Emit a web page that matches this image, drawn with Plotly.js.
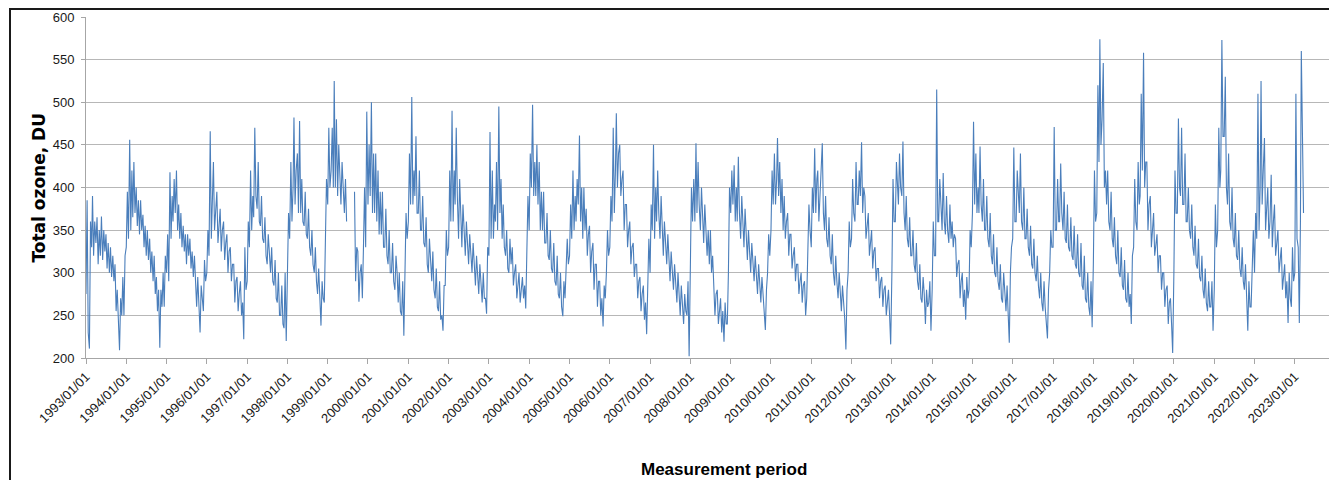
<!DOCTYPE html>
<html><head><meta charset="utf-8">
<script src="https://cdn.plot.ly/plotly-3.0.1.min.js"></script>
<style>
html,body{margin:0;padding:0;overflow:hidden;background:#fff}
#chart{width:1329px;height:480px;position:absolute;left:0;top:0}
#frame{position:absolute;left:9px;top:8px;width:1400px;height:600px;border-left:2px solid #1a1a1a;border-top:2px solid #1a1a1a;pointer-events:none}
</style></head><body>
<div id="chart"></div><div id="frame"></div>
<script>
// Readings on the 1st, 11th and 21st of each month, total ozone in DU
const oz1993 = [275,385,230, 211,360,330, 390,320,360, 335,365,310, 350,320,366, 315,350,325, 345,305,335, 300,330,295, 320,290,310, 255,280,240, 209,270,250, 295,250,320];
const oz1994 = [330,395,340, 456,350,420, 365,430,370, 400,355,385, 345,385,350, 368,330,355, 320,350,315, 340,300,325, 290,320,275, 295,255,280, 212,280,260, 300,260,320];
const oz1995 = [300,345,290, 418,340,390, 360,410,370, 420,350,380, 340,370,330, 355,325,345, 310,345,320, 340,305,325, 295,320,280, 260,295,250, 230,285,265, 255,315,290];
const oz1996 = [300,350,320, 466,340,400, 430,350,380, 395,335,360, 375,325,350, 360,315,335, 345,300,325, 330,290,310, 310,265,290, 295,255,275, 290,250,265, 222,330,280];
const oz1997 = [290,360,330, 420,350,390, 365,470,390, 375,430,360, 355,390,340, 335,365,320, 310,345,325, 300,330,290, 285,315,270, 265,300,250, 250,285,240, 235,300,220];
const oz1998 = [300,370,340, 430,360,400, 482,380,420, 440,370,478, 370,410,360, 355,395,345, 340,375,330, 320,350,310, 300,330,290, 275,305,260, 238,290,270, 265,360,410];
const oz1999 = [380,470,400, 420,470,400, 525,400,480, 390,450,400, 380,430,390, 370,410,360, null,null,null, null,null,null, 395,290,330, 325,266,300, 310,270,330, 400,330,489];
const oz2000 = [380,450,390, 500,370,440, 370,440,360, 420,345,395, 345,395,330, 330,375,320, 310,350,300, 300,335,290, 280,320,300, 265,300,255, 250,290,226, 300,370,340];
const oz2001 = [360,440,380, 506,380,420, 390,460,370, 370,420,350, 350,390,335, 330,365,310, 300,340,310, 290,325,280, 270,305,260, 255,290,245, 250,232,285, 285,350,320];
const oz2002 = [330,420,360, 490,360,420, 380,470,390, 340,410,350, 330,380,340, 320,360,330, 310,345,320, 300,335,310, 285,320,290, 275,310,280, 265,300,270, 270,252,330];
const oz2003 = [320,465,340, 420,340,380, 360,430,350, 495,370,410, 340,380,330, 320,350,305, 300,340,310, 330,285,300, 310,270,290, 300,265,280, 295,270,285, 258,330,390];
const oz2004 = [350,440,400, 497,390,430, 390,450,380, 430,350,395, 350,395,335, 335,370,320, 315,350,305, 300,335,290, 285,320,275, 270,300,260, 249,290,270, 300,340,310];
const oz2005 = [320,380,340, 420,350,390, 360,410,380, 461,360,400, 340,400,350, 375,320,345, 355,300,325, 335,280,310, 310,260,290, 290,250,270, 237,285,270, 300,350,320];
const oz2006 = [330,390,360, 470,370,420, 487,400,440, 450,390,410, 420,350,380, 380,330,350, 360,310,330, 335,295,310, 310,270,290, 295,255,275, 285,245,265, 228,290,340];
const oz2007 = [300,380,350, 450,340,400, 360,420,370, 340,390,350, 320,360,330, 310,345,320, 290,325,300, 280,310,285, 265,300,270, 250,285,260, 240,275,255, 250,290,202];
const oz2008 = [330,400,360, 410,360,452, 370,430,380, 350,400,360, 335,380,340, 320,350,310, 350,300,320, 290,250,275, 280,240,260, 270,230,255, 219,265,240, 240,300,400];
const oz2009 = [370,420,380, 426,360,400, 360,436,370, 340,390,350, 330,375,340, 315,350,320, 300,335,310, 290,320,295, 275,310,280, 265,295,270, 250,233,280, 300,345,320];
const oz2010 = [350,420,380, 440,380,410, 458,390,430, 370,410,350, 390,340,360, 370,320,345, 345,305,320, 330,290,310, 310,275,290, 300,265,285, 290,250,270, 330,380,350];
const oz2011 = [330,400,370, 446,370,410, 420,360,390, 410,452,370, 350,390,340, 330,365,320, 310,345,300, 285,320,290, 270,300,275, 255,285,265, 245,210,280, 300,360,330];
const oz2012 = [340,410,370, 360,430,380, 380,420,390, 453,370,400, 390,340,360, 370,320,340, 350,305,325, 330,290,305, 305,270,290, 295,260,280, 285,250,270, 280,250,216];
const oz2013 = [300,410,360, 360,430,390, 380,440,400, 390,454,370, 350,390,340, 330,365,320, 320,350,310, 300,335,290, 280,310,270, 265,295,275, 240,280,260, 265,290,232];
const oz2014 = [280,360,320, 320,515,360, 360,410,370, 350,417,360, 345,390,350, 335,380,340, 360,330,345, 340,295,310, 315,270,290, 300,260,280, 245,295,270, 280,350,330];
const oz2015 = [370,477,380, 440,370,400, 370,448,380, 360,410,350, 350,390,340, 330,370,320, 310,345,300, 295,330,290, 280,310,270, 265,300,275, 255,285,260, 218,300,330];
const oz2016 = [340,447,360, 360,420,380, 370,440,360, 350,400,340, 340,375,330, 320,355,310, 305,340,300, 290,320,285, 270,300,265, 255,290,260, 245,223,280, 300,350,330];
const oz2017 = [330,471,350, 350,410,360, 360,428,370, 350,395,340, 335,380,330, 325,365,320, 315,355,310, 305,345,300, 295,335,285, 280,320,270, 265,300,260, 250,290,236];
const oz2018 = [310,420,360, 370,520,430, 574,450,480, 546,400,420, 380,420,360, 350,395,340, 330,365,320, 310,350,300, 295,330,285, 280,315,270, 265,300,260, 275,240,320];
const oz2019 = [330,410,360, 350,430,380, 390,510,420, 558,400,430, 430,350,380, 390,330,355, 370,320,335, 345,300,320, 320,280,300, 300,260,280, 285,240,265, 270,240,206];
const oz2020 = [300,420,370, 370,481,400, 390,470,380, 380,440,360, 360,400,350, 340,380,330, 320,355,310, 305,340,295, 290,320,280, 270,305,265, 255,290,260, 260,290,232];
const oz2021 = [280,380,330, 350,470,400, 420,573,460, 460,530,400, 380,440,360, 350,400,340, 330,370,320, 315,350,305, 295,330,290, 280,310,275, 232,290,260, 260,320,350];
const oz2022 = [300,370,340, 510,350,400, 525,380,420, 458,350,380, 400,340,360, 415,330,360, 380,320,340, 350,300,320, 330,280,300, 310,270,290, 241,300,270, 260,330,290];
const oz2023 = [300,510,340, 330,241,360, 560,420,370];

const years = [1993,1994,1995,1996,1997,1998,1999,2000,2001,2002,2003,2004,2005,2006,2007,2008,2009,2010,2011,2012,2013,2014,2015,2016,2017,2018,2019,2020,2021,2022,2023];
const yearly = [oz1993,oz1994,oz1995,oz1996,oz1997,oz1998,oz1999,oz2000,oz2001,oz2002,oz2003,oz2004,oz2005,oz2006,oz2007,oz2008,oz2009,oz2010,oz2011,oz2012,oz2013,oz2014,oz2015,oz2016,oz2017,oz2018,oz2019,oz2020,oz2021,oz2022,oz2023];
const sampleDays = ['01', '11', '21'];
const tickDates = years.map(y => y + '-01-01');
const tickLabels = years.map(y => y + '/01/01');

const xs = [], ys = [];
years.forEach((yr, i) => {
  yearly[i].forEach((v, j) => {
    const m = String(Math.floor(j / 3) + 1).padStart(2, '0');
    xs.push(yr + '-' + m + '-' + sampleDays[j % 3]);
    ys.push(v);
  });
});

const trace = {
  x: xs, y: ys, type: 'scatter', mode: 'lines',
  line: {color: '#4A7EBB', width: 1.1},
  connectgaps: false, hoverinfo: 'skip'
};

const tickFont = {family: 'Liberation Sans, Arial, sans-serif', size: 13, color: '#1a1a1a'};
const layout = {
  width: 1329, height: 480,
  margin: {l: 86, r: 0, t: 17, b: 122, pad: 0},
  paper_bgcolor: '#ffffff', plot_bgcolor: '#ffffff',
  showlegend: false,
  xaxis: {
    type: 'date', range: ['1993-01-01', '2023-11-07'],
    tickmode: 'array', tickvals: tickDates, ticktext: tickLabels,
    tickangle: -45, tickfont: tickFont,
    ticks: 'outside', ticklen: 5, tickcolor: '#a6a6a6',
    showgrid: false, showline: true, linecolor: '#a6a6a6', linewidth: 1,
    zeroline: false, fixedrange: true
  },
  yaxis: {
    range: [200, 600], dtick: 50, tick0: 200,
    tickfont: tickFont, ticks: 'outside', ticklen: 4, tickcolor: '#a6a6a6',
    showgrid: true, gridcolor: '#b7b7b7', gridwidth: 1,
    showline: true, linecolor: '#a6a6a6', linewidth: 1,
    zeroline: false, fixedrange: true, ticklabelstandoff: 4
  },
  annotations: [
    {text: 'Total ozone, DU', xref: 'paper', yref: 'paper', x: -0.0386, y: 0.5,
     xanchor: 'center', yanchor: 'middle', textangle: -90, showarrow: false,
     font: {family: 'DejaVu Sans, Verdana, sans-serif', size: 17, weight: 'bold', color: '#000'}},
    {text: 'Measurement period', xref: 'paper', yref: 'paper', x: 0.5133, y: -0.328,
     xanchor: 'center', yanchor: 'middle', showarrow: false,
     font: {family: 'Liberation Sans, Arial, sans-serif', size: 17, weight: 'bold', color: '#000'}}
  ]
};

Plotly.newPlot('chart', [trace], layout, {staticPlot: true, displayModeBar: false});
</script>
</body></html>
